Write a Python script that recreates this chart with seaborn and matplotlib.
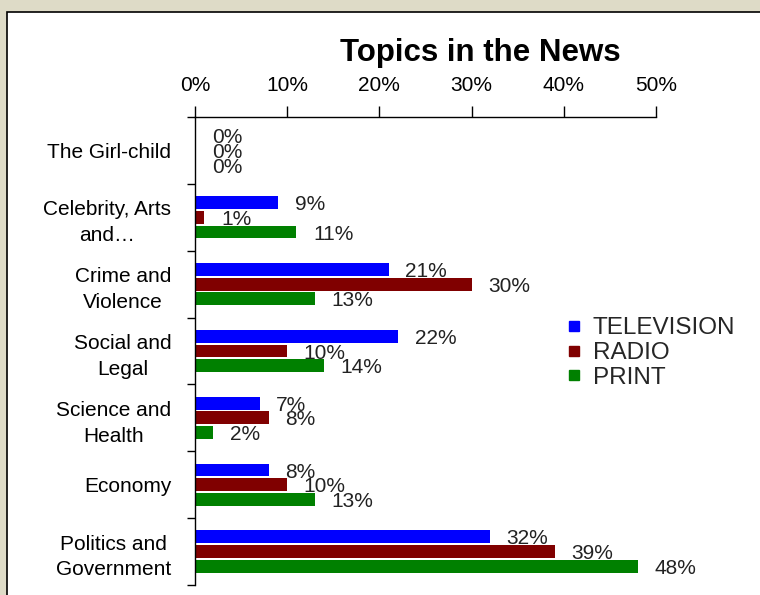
import matplotlib
matplotlib.use("Agg")
import matplotlib.pyplot as plt
from matplotlib.patches import Rectangle
from matplotlib.lines import Line2D
from matplotlib.ticker import FixedLocator, FuncFormatter
import seaborn as sns
import pandas as pd

# ---- data ----
categories = ["The Girl-child", "Celebrity, Arts\nand…", "Crime and\nViolence",
              "Social and\nLegal", "Science and\nHealth", "Economy",
              "Politics and\nGovernment"]
series = ["TELEVISION", "RADIO", "PRINT"]
television = [0, 9, 21, 22, 7, 8, 32]
radio = [0, 1, 30, 10, 8, 10, 39]
printed = [0, 11, 13, 14, 2, 13, 48]
colors = ["#0000FF", "#800000", "#008000"]
x_ticks = [0, 10, 20, 30, 40, 50]
title = "Topics in the News"

rows = []
for name, vals in zip(series, [television, radio, printed]):
    for cat, v in zip(categories, vals):
        rows.append({"Topic": cat, "Media": name, "Share": v})
df = pd.DataFrame(rows)

sns.set_style("white")
plt.rcParams["font.family"] = ["Liberation Sans", "DejaVu Sans"]

W, H = 760, 595
fig = plt.figure(figsize=(W / 100, H / 100), dpi=100)
fig.patch.set_facecolor("#DEDBC7")

# white chart panel with black border
panel = Rectangle((7 / W, -0.05), 1.1, 1 - 12 / H + 0.05, transform=fig.transFigure,
                  facecolor="white", edgecolor="black", linewidth=1.2, zorder=-5)
fig.patches.append(panel)

ax = fig.add_axes([195 / W, 1 - 585 / H, (656 - 195) / W, (585 - 117) / H])
ax.set_facecolor("none")
ax.set_zorder(2)

sns.barplot(data=df, y="Topic", x="Share", hue="Media", order=categories,
            hue_order=series, palette=colors, orient="h", width=0.66, gap=0.12,
            linewidth=0, saturation=1, legend=False, ax=ax)

for cont in ax.containers:
    vals = [int(round(b.get_width())) for b in cont]
    anns = ax.bar_label(cont, labels=[f"{v}%" for v in vals], padding=12,
                        fontsize=15, color="#222222")
    for a in anns:
        a.xyann = (12, -1.5)

ax.set_xlim(0, 50)
ax.set_ylim(6.5, -0.5)
ax.xaxis.tick_top()
ax.xaxis.set_label_position("top")
ax.set_xticks(x_ticks)
ax.xaxis.set_major_formatter(FuncFormatter(lambda v, p: f"{int(v)}%"))
ax.tick_params(axis="x", direction="out", length=8, width=1, color="black",
               labelsize=15, pad=8, labelcolor="black")
ax.set_xlabel("")
ax.set_ylabel("")

ax.yaxis.set_minor_locator(FixedLocator([i - 0.5 for i in range(len(categories) + 1)]))
ax.tick_params(axis="y", which="minor", direction="out", length=6, width=1, color="black", left=True)
ax.tick_params(axis="y", which="major", length=0, pad=17, labelsize=15, labelcolor="black")
for lab in ax.get_yticklabels():
    lab.set_multialignment("center")
    lab.set_linespacing(1.45)

for side in ["right", "bottom"]:
    ax.spines[side].set_visible(False)
for side in ["top", "left"]:
    ax.spines[side].set_visible(True)
    ax.spines[side].set_color("black")
    ax.spines[side].set_linewidth(1)

fig.text(480 / W, 1 - 53 / H, title, ha="center", va="center",
         fontsize=22.5, fontweight="bold", color="black")

handles = [Line2D([], [], marker="s", linestyle="none", markersize=7,
                  markerfacecolor=c, markeredgecolor=c) for c in colors]
ax.legend(handles, series, loc="center left",
          bbox_to_anchor=(565 / W, 1 - 353 / H), bbox_transform=fig.transFigure,
          frameon=False, fontsize=17.5, handlelength=0.7, handletextpad=0.45,
          labelspacing=0.11, borderpad=0, borderaxespad=0)

fig.savefig("out.png", dpi=100, facecolor=fig.get_facecolor())
